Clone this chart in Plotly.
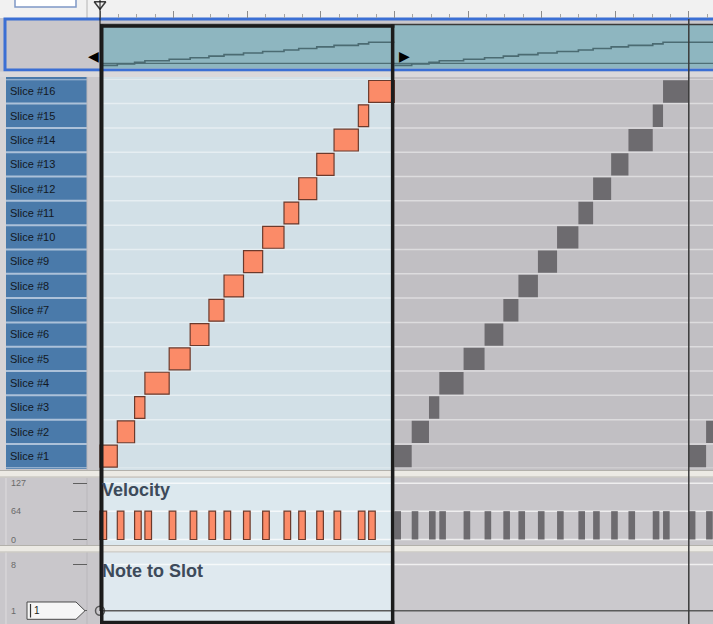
import plotly.graph_objects as go

W, H = 713, 624

# ---------------- data ----------------
SLICE_NUMS = [1, 2, 3, 4, 5, 6, 7, 8, 9, 10, 11, 12, 13, 14, 15, 16]
SLICE_LABELS = ["Slice #1", "Slice #2", "Slice #3", "Slice #4", "Slice #5", "Slice #6",
                "Slice #7", "Slice #8", "Slice #9", "Slice #10", "Slice #11", "Slice #12",
                "Slice #13", "Slice #14", "Slice #15", "Slice #16"]
# slice start positions in beats (one bar = 4 beats)
SLICE_STARTS = [0.00, 0.235, 0.47, 0.61, 0.94, 1.225, 1.48, 1.685,
                1.95, 2.21, 2.50, 2.70, 2.945, 3.18, 3.51, 3.65]
LOOP_LENGTH = 4.0
SLICE_VELOCITIES = [64, 64, 64, 64, 64, 64, 64, 64, 64, 64, 64, 64, 64, 64, 64, 64]
VELOCITY_TICKS = [0, 64, 127]
VELOCITY_TICK_TEXT = ["0", "64", "127"]
SLOT_TICKS = [1, 8]
SLOT_TICK_TEXT = ["1", "8"]
NOTE_SLOT_BEATS = [0, 12]
NOTE_SLOT_VALUES = [1, 1]
SLOT_BOX_TEXT = "1"
BEAT_TICKS = [0, 1, 2, 3, 4, 5, 6, 7, 8]
SIXTEENTH_TICKS = [b + q / 4 for b in range(9) for q in (1, 2, 3)]
PLAYHEAD_BEAT = 0
LANE_TITLES = ["Velocity", "Note to Slot"]
LOOP_COPIES = [1, 2]

slice_ends = SLICE_STARTS[1:] + [LOOP_LENGTH]
slice_lengths = [e - s for s, e in zip(SLICE_STARTS, slice_ends)]

# ---------------- geometry / style ----------------
PX_PER_BEAT = 73.6
ORIGIN_PX = 100
X_RANGE = [-ORIGIN_PX / PX_PER_BEAT, (W - ORIGIN_PX) / PX_PER_BEAT]
FONT = "Liberation Sans, Arial, sans-serif"

ORANGE = "#fb8b68"
ORANGE_EDGE = "#6b3a2c"
GRAY_NOTE = "#6d6b6f"
PANEL_GRAY = "#c9c7cb"
LIGHT_BLUE = "#d2e0e7"


def ydom(top, bot):
    return [1 - bot / H, 1 - top / H]


def yrange(top, bot, va, pa, vb, pb):
    k = (pb - pa) / (vb - va)
    f = lambda p: va + (p - pa) / k
    return [f(bot), f(top)]


def rect_px(x0, y0, x1, y1, fill, layer="below", lc=None, lw=0):
    return dict(type="rect", xref="paper", yref="paper", x0=x0 / W, x1=x1 / W,
                y0=1 - y1 / H, y1=1 - y0 / H, fillcolor=fill,
                line=dict(width=lw, color=lc or fill), layer=layer)


def hline_px(x0, x1, y, color, width, layer="below"):
    return dict(type="line", xref="paper", yref="paper", x0=x0 / W, x1=x1 / W,
                y0=1 - y / H, y1=1 - y / H, line=dict(color=color, width=width), layer=layer)


def vline_px(x, y0, y1, color, width, layer="below"):
    return dict(type="line", xref="paper", yref="paper", x0=x / W, x1=x / W,
                y0=1 - y1 / H, y1=1 - y0 / H, line=dict(color=color, width=width), layer=layer)


fig = go.Figure()

# ruler playhead marker
fig.add_trace(go.Scatter(x=[PLAYHEAD_BEAT], y=[0.76], xaxis="x", yaxis="y", mode="markers",
                         marker=dict(symbol="triangle-down-open", size=10, color="#3a3a3a",
                                     line=dict(width=1.5)), cliponaxis=False))

# overview stair line
for k in [0] + LOOP_COPIES[:1]:
    xs = [s + k * LOOP_LENGTH for s in SLICE_STARTS]
    end = (k + 1) * LOOP_LENGTH if k == 0 else X_RANGE[1]
    fig.add_trace(go.Scatter(x=xs + [end], y=SLICE_NUMS + [SLICE_NUMS[-1]], xaxis="x2", yaxis="y2",
                             mode="lines", line=dict(shape="hv", color="#4b6b72", width=1.6)))

# slices (main loop + grey repeats)
fig.add_trace(go.Bar(orientation="h", y=SLICE_NUMS, x=slice_lengths, base=SLICE_STARTS, width=0.9,
                     marker=dict(color=ORANGE, line=dict(color=ORANGE_EDGE, width=1.2)),
                     xaxis="x3", yaxis="y3"))
for k in LOOP_COPIES:
    fig.add_trace(go.Bar(orientation="h", y=SLICE_NUMS, x=slice_lengths,
                         base=[s + k * LOOP_LENGTH for s in SLICE_STARTS], width=0.92,
                         marker=dict(color=GRAY_NOTE, line=dict(width=0)),
                         xaxis="x3", yaxis="y3"))

# velocity bars
VEL_W = 0.09
fig.add_trace(go.Bar(x=SLICE_STARTS, y=SLICE_VELOCITIES, width=VEL_W, offset=0,
                     marker=dict(color=ORANGE, line=dict(color=ORANGE_EDGE, width=1.2)),
                     xaxis="x4", yaxis="y4"))
for k in LOOP_COPIES:
    fig.add_trace(go.Bar(x=[s + k * LOOP_LENGTH for s in SLICE_STARTS], y=SLICE_VELOCITIES,
                         width=VEL_W, offset=0, marker=dict(color=GRAY_NOTE, line=dict(width=0)),
                         xaxis="x4", yaxis="y4"))

# note to slot line
fig.add_trace(go.Scatter(x=NOTE_SLOT_BEATS, y=NOTE_SLOT_VALUES, xaxis="x5", yaxis="y5",
                         mode="lines+markers", line=dict(color="#5b5b5b", width=1.5),
                         marker=dict(symbol="circle-open", size=[9, 0], color="#2a2a2a",
                                     line=dict(width=1.5)), cliponaxis=False))

# ---------------- shapes ----------------
shapes = []
# ruler strip
shapes.append(rect_px(0, 0, W, 18, "#f1f1f1"))
shapes.append(rect_px(15, -4, 76, 7, "#ffffff", lc="#7f98c6", lw=1.5))
shapes.append(vline_px(87, 0, 18, "#b4b4b4", 1))
# overview lane
shapes.append(rect_px(5, 19, W + 4, 70, PANEL_GRAY, lc="#3b6fd4", lw=3))
shapes.append(rect_px(ORIGIN_PX, 24, W + 2, 68.3, "#8eb6c0"))
shapes.append(hline_px(ORIGIN_PX, W, 24.5, "#3a3a3a", 1.5))
shapes.append(hline_px(ORIGIN_PX, W, 63.3, "#4f6f76", 1.3))
# gap below overview
shapes.append(rect_px(0, 71.5, W, 77, "#dad8da"))
# slices lane
shapes.append(rect_px(0, 77, 6, 470, "#d6d4d6"))
shapes.append(rect_px(6, 77, 87, 469, "#4a7aaa"))
shapes.append(rect_px(ORIGIN_PX, 77, ORIGIN_PX + LOOP_LENGTH * PX_PER_BEAT, 470, LIGHT_BLUE))
shapes.append(rect_px(ORIGIN_PX + LOOP_LENGTH * PX_PER_BEAT, 77, W, 470, "#c1bfc3"))
for n in [0] + SLICE_NUMS:
    shapes.append(dict(type="line", xref="paper", yref="y3", x0=6 / W, x1=87 / W, y0=n + 0.5, y1=n + 0.5,
                       line=dict(color="rgba(205,218,232,0.75)", width=2), layer="below"))
    shapes.append(dict(type="line", xref="paper", yref="y3", x0=ORIGIN_PX / W, x1=1, y0=n + 0.5, y1=n + 0.5,
                       line=dict(color="rgba(255,255,255,0.45)", width=1.5), layer="below"))
# separators
for top in (470, 545):
    shapes.append(rect_px(0, top, W, top + 7.5, "#eceae4"))
    shapes.append(hline_px(0, W, top + 0.5, "#b3b1ab", 1))
    shapes.append(hline_px(0, W, top + 7, "#bdbbb5", 1))
# velocity lane
shapes.append(rect_px(ORIGIN_PX, 478, ORIGIN_PX + LOOP_LENGTH * PX_PER_BEAT, 545, "#dce8ee"))
shapes.append(rect_px(ORIGIN_PX + LOOP_LENGTH * PX_PER_BEAT, 478, W, 545, "#c8c6ca"))
for v in VELOCITY_TICKS:
    shapes.append(dict(type="line", xref="paper", yref="y4", x0=ORIGIN_PX / W, x1=1, y0=v, y1=v,
                       line=dict(color="rgba(255,255,255,0.7)", width=1.5), layer="below"))
# note to slot lane
shapes.append(rect_px(ORIGIN_PX, 552.5, ORIGIN_PX + LOOP_LENGTH * PX_PER_BEAT, H, "#dfe9ef"))
shapes.append(rect_px(ORIGIN_PX + LOOP_LENGTH * PX_PER_BEAT, 552.5, W, H, "#cbc9cd"))
shapes.append(dict(type="line", xref="paper", yref="y5", x0=ORIGIN_PX / W, x1=1, y0=SLOT_TICKS[-1],
                   y1=SLOT_TICKS[-1], line=dict(color="rgba(255,255,255,0.7)", width=1.5), layer="below"))
# left panel dividers
for y0, y1 in ((478, 545), (552.5, H)):
    shapes.append(vline_px(6, y0, y1, "#dedcde", 1))
    shapes.append(vline_px(87, y0, y1, "#b9b7bb", 1))
shapes.append(vline_px(87, 77, 470, "#b9b7bb", 1))

# slot pointer box
pts = [(27, 602), (76, 602), (85, 610.7), (76, 619.3), (27, 619.3)]
path = "M " + " L ".join(f"{x / W:.5f},{1 - y / H:.5f}" for x, y in pts) + " Z"
shapes.append(dict(type="path", xref="paper", yref="paper", path=path, fillcolor="#f6f6f6",
                   line=dict(color="#4a4a4a", width=1), layer="above"))
shapes.append(vline_px(30.5, 604, 617.5, "#333333", 1.2, layer="above"))

# loop frame (above traces)
frame_top, frame_bot = 24.5, H
shapes.append(dict(type="rect", xref="x", yref="paper", xsizemode="pixel", xanchor=0,
                   x0=0, x1=3.5, y0=1 - frame_bot / H, y1=1 - frame_top / H,
                   fillcolor="#1c1c1c", line=dict(width=0), layer="above"))
shapes.append(dict(type="rect", xref="x", yref="paper", xsizemode="pixel", xanchor=LOOP_LENGTH,
                   x0=-3.5, x1=0, y0=1 - frame_bot / H, y1=1 - frame_top / H,
                   fillcolor="#1c1c1c", line=dict(width=0), layer="above"))
shapes.append(dict(type="rect", xref="x", yref="paper", x0=0, x1=LOOP_LENGTH,
                   y0=1 - 27.7 / H, y1=1 - 24.5 / H, fillcolor="#1c1c1c", line=dict(width=0), layer="above"))
shapes.append(dict(type="rect", xref="x", yref="paper", x0=0, x1=LOOP_LENGTH,
                   y0=0, y1=1 - 620.8 / H, fillcolor="#1c1c1c", line=dict(width=0), layer="above"))
# second loop end
shapes.append(dict(type="line", xref="x", yref="paper", x0=2 * LOOP_LENGTH, x1=2 * LOOP_LENGTH,
                   y0=0, y1=1 - 19 / H, line=dict(color="#3a3a3a", width=1.5), layer="above"))
# playhead
shapes.append(dict(type="line", xref="x", yref="paper", x0=PLAYHEAD_BEAT, x1=PLAYHEAD_BEAT,
                   y0=1 - 611 / H, y1=1, line=dict(color="#111111", width=1), layer="above"))

# ---------------- annotations ----------------
ann = []
for v, t in zip(VELOCITY_TICKS, VELOCITY_TICK_TEXT):
    ann.append(dict(x=9 / W, xref="paper", y=v, yref="y4", text=t, showarrow=False, xanchor="left",
                    yanchor="middle", font=dict(size=9, color="#6a6a6a", family=FONT)))
for v, t in zip(SLOT_TICKS, SLOT_TICK_TEXT):
    ann.append(dict(x=9 / W, xref="paper", y=v, yref="y5", text=t, showarrow=False, xanchor="left",
                    yanchor="middle", font=dict(size=9, color="#6a6a6a", family=FONT)))
ann.append(dict(x=32 / W, xref="paper", y=NOTE_SLOT_VALUES[0], yref="y5", text=SLOT_BOX_TEXT,
                showarrow=False, xanchor="left", yanchor="middle",
                font=dict(size=10, color="#222222", family=FONT)))
for title, yc in zip(LANE_TITLES, (489.5, 571)):
    ann.append(dict(x=100 / W, xref="paper", y=1 - yc / H, yref="paper", text=f"<b>{title}</b>",
                    showarrow=False, xanchor="left", yanchor="middle",
                    font=dict(size=18, color="#3d4a5a", family=FONT)))
ann.append(dict(x=0, xref="x", xshift=-7, y=1 - 46 / H, yref="paper", text="◀", showarrow=False,
                font=dict(size=14, color="#000000", family="DejaVu Sans")))
ann.append(dict(x=LOOP_LENGTH, xref="x", xshift=10, y=1 - 46 / H, yref="paper", text="▶",
                showarrow=False, font=dict(size=14, color="#000000", family="DejaVu Sans")))

hidden_x = dict(domain=[0, 1], range=X_RANGE, visible=False, fixedrange=True)

fig.update_layout(
    width=W, height=H, autosize=False,
    margin=dict(l=0, r=0, t=0, b=0, pad=0),
    paper_bgcolor=PANEL_GRAY, plot_bgcolor="rgba(0,0,0,0)",
    showlegend=False, hovermode=False, barmode="overlay",
    font=dict(family=FONT),
    xaxis=dict(domain=[0, 1], range=X_RANGE, anchor="y", showgrid=False, zeroline=False,
               showticklabels=False, showline=False, ticks="inside", tickmode="array",
               tickvals=BEAT_TICKS, ticklen=7, tickcolor="#8c8c8c", tickwidth=1,
               minor=dict(tickmode="array", tickvals=SIXTEENTH_TICKS, ticks="inside", ticklen=3.5,
                          tickcolor="#a4a4a4", tickwidth=1, showgrid=False)),
    yaxis=dict(domain=ydom(0, 17.5), range=[0, 1], visible=False),
    xaxis2=dict(hidden_x, anchor="y2"),
    yaxis2=dict(domain=ydom(23, 69), range=yrange(23, 69, 3, 62.3, 16, 42.3), visible=False),
    xaxis3=dict(hidden_x, anchor="y3"),
    yaxis3=dict(domain=ydom(79.3, 468.3), range=[0.5, 16.5], anchor="free", position=6 / W,
                tickmode="array", tickvals=SLICE_NUMS, ticktext=SLICE_LABELS,
                ticklabelposition="inside", ticks="", showgrid=False, zeroline=False, showline=False,
                tickfont=dict(size=11, color="#121822", family=FONT)),
    xaxis4=dict(hidden_x, anchor="y4"),
    yaxis4=dict(domain=ydom(479, 544), range=yrange(479, 544, 0, 539.5, 127, 483.3), anchor="free",
                position=87 / W, tickmode="array", tickvals=VELOCITY_TICKS, ticks="outside", ticklen=14,
                tickcolor="#5f5f5f", tickwidth=1, showticklabels=False, showgrid=False,
                zeroline=False, showline=False),
    xaxis5=dict(hidden_x, anchor="y5"),
    yaxis5=dict(domain=ydom(553, 623), range=yrange(553, 623, 1, 610.7, 8, 564.5), anchor="free",
                position=87 / W, tickmode="array", tickvals=SLOT_TICKS, ticks="outside", ticklen=14,
                tickcolor="#5f5f5f", tickwidth=1, showticklabels=False, showgrid=False,
                zeroline=False, showline=False),
    shapes=shapes,
    annotations=ann,
)

fig.write_html("out.html", config={"displayModeBar": False},
               post_script="document.body.style.margin='0';document.body.style.overflow='hidden';")
